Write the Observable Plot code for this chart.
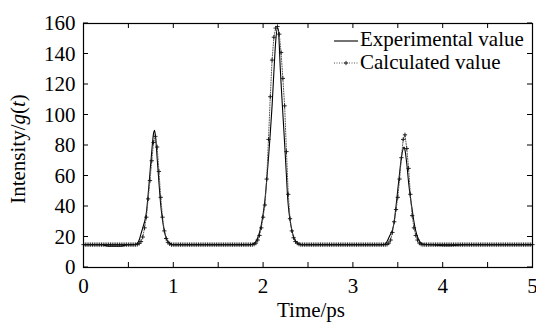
<!DOCTYPE html>
<html><head><meta charset="utf-8">
<script src="https://cdn.jsdelivr.net/npm/d3@7"></script>
<script src="https://cdn.jsdelivr.net/npm/@observablehq/plot@0.6"></script>
<style>
body{margin:0;background:#fff}
svg{font-family:"Liberation Serif","Times New Roman",serif}
</style>
</head><body><div id="chart"></div>
<script>
// Experimental curve (time in ps, intensity)
const expTime = [
  0,0.1,0.2,0.22,0.26,0.3,0.35,0.4,0.44,0.47,0.5,0.56,0.58,
  0.6,0.62,0.64,0.66,0.68,0.7,0.72,0.74,0.76,0.78,0.79,0.8,0.82,0.84,0.86,0.88,0.9,0.92,0.94,0.96,0.98,1.0,1.4,
  1.86,1.88,1.9,1.92,1.94,1.96,1.98,2.0,2.02,2.04,2.06,2.08,2.1,2.12,2.14,2.16,2.17,2.18,2.19,2.2,2.22,2.24,2.26,2.27,2.28,2.3,2.32,2.34,2.36,2.38,2.4,2.42,2.8,
  3.34,3.36,3.38,3.4,3.42,3.44,3.46,3.48,3.5,3.52,3.54,3.56,3.57,3.58,3.6,3.62,3.64,3.66,3.68,3.7,3.72,3.74,3.76,3.78,3.85,3.92,4.0,4.1,4.18,4.25,4.6,5.0
];
const expIntensity = [
  15,15,15,14.8,14.2,14,14,14,14.2,14.8,15,15,15.2,
  15.8,18,22,26,30,36,48,62,76,88,90,87,72,56,41,31,24,19.5,17,16,15.3,15,15,
  15,15.3,15.8,17,19.5,23,28,35,44,57,72,88,106,128,148,157,156,146,132,121,101,81,60,49,41,31,24.5,20,17.5,16.2,15.5,15,15,
  15,15.5,17,19.5,22,24.5,30,40,51,62,72,78,79,77,68,56,46,38,30,24,20,17.5,16,15.3,15,14.8,14.3,14.3,14.8,15,15,15
];
// Calculated curve, sampled every 0.02 ps from 0 to 5
const calcStep = 0.02;
const calcIntensity = [
  15,15,15,15,15,15,15,15,15,15,
  15,15,15,15,15,15,15,15,15,15,
  15,15,15,15,15,15,15,15,15,15,
  15.2,15.8,17,20,26,33,45,57,70,82,
  86,79,63,46,33,24,19,16.5,15.5,15,
  15,15,15,15,15,15,15,15,15,15,
  15,15,15,15,15,15,15,15,15,15,
  15,15,15,15,15,15,15,15,15,15,
  15,15,15,15,15,15,15,15,15,15,
  15,15,15,15,15,15.3,16,18,21,26,
  33,41,58,84,112,136,151,157,158,153,
  141,124,106,76,48,32,24,19.5,17,16,
  15.3,15,15,15,15,15,15,15,15,15,
  15,15,15,15,15,15,15,15,15,15,
  15,15,15,15,15,15,15,15,15,15,
  15,15,15,15,15,15,15,15,15,15,
  15,15,15,15,15,15,15,15,15,15.2,
  16,18,23,30,38,46,58,72,84,87,
  78,65,48,34,26,21,18,16,15.3,15,
  15,15,15,15,15,15,15,15,15,15,
  15,15,15,15,15,15,15,15,15,15,
  15,15,15,15,15,15,15,15,15,15,
  15,15,15,15,15,15,15,15,15,15,
  15,15,15,15,15,15,15,15,15,15,
  15,15,15,15,15,15,15,15,15,15,
  15
];
const xTicks = [0,1,2,3,4,5];
const xMinorTicks = [0,0.5,1,1.5,2,2.5,3,3.5,4,4.5,5];
const yTicks = [0,20,40,60,80,100,120,140,160];
const seriesNames = ["Experimental value","Calculated value"];
const xLabel = "Time/ps";

const expData = expTime.map((t,i)=>({t, v: expIntensity[i]}));
const calcData = calcIntensity.map((v,i)=>({t: +(i*calcStep).toFixed(3), v}));

const W = 536, H = 322, mL = 83, mR = 4, mT = 23, mB = 55;
const innerH = H - mT - mB;
const tick = 5;

const chart = Plot.plot({
  width: W, height: H,
  marginLeft: mL, marginRight: mR, marginTop: mT, marginBottom: mB,
  style: {fontFamily: '"Liberation Serif","Times New Roman",serif', fontSize: "21px", color: "#000", background: "#fff"},
  x: {domain: [0,5]},
  y: {domain: [0,160]},
  marks: [
    Plot.ruleX(xMinorTicks, {x: d=>d, insetTop: innerH - tick, stroke: "#000"}),
    Plot.ruleX(xMinorTicks, {x: d=>d, insetBottom: innerH - tick, stroke: "#000"}),
    Plot.axisX({ticks: xTicks, tickSize: 0, tickPadding: 11, label: null, fontSize: 21, tickFormat: d=>String(d)}),
    Plot.axisY({ticks: yTicks, tickSize: 0, tickPadding: 8, label: null, fontSize: 21}),
    Plot.line(expData, {x: "t", y: "v", stroke: "#000", strokeWidth: 1.1, curve: "monotone-x"}),
    Plot.line(calcData, {x: "t", y: "v", stroke: "#555", strokeWidth: 1, strokeDasharray: "1,1.5"}),
    Plot.dot(calcData, {x: "t", y: "v", symbol: "plus", r: 1.5, stroke: "#111", strokeWidth: 0.9}),
    Plot.frame({stroke: "#000", strokeWidth: 1.2})
  ]
});

const svg = d3.select(chart);
const ys = chart.scale("y");
// inward y ticks on left and right
yTicks.forEach(v => {
  const y = ys.apply(v);
  svg.append("line").attr("x1", mL).attr("x2", mL + tick).attr("y1", y).attr("y2", y).attr("stroke", "#000");
  svg.append("line").attr("x1", W - mR).attr("x2", W - mR - tick).attr("y1", y).attr("y2", y).attr("stroke", "#000");
});
// x label
svg.append("text").attr("x", 311).attr("y", 317).attr("text-anchor", "middle")
  .attr("font-size", 21).attr("fill", "#000").text(xLabel);
// y label with italic g and t
const yl = svg.append("text").attr("transform", "translate(25,149) rotate(-90)")
  .attr("text-anchor", "middle").attr("font-size", 21).attr("fill", "#000");
yl.append("tspan").text("Intensity/");
yl.append("tspan").attr("font-style", "italic").text("g");
yl.append("tspan").text("(");
yl.append("tspan").attr("font-style", "italic").text("t");
yl.append("tspan").text(")");
// legend
const lx0 = 334, lx1 = 358, tx = 360;
svg.append("line").attr("x1", lx0).attr("x2", lx1).attr("y1", 41).attr("y2", 41).attr("stroke", "#000").attr("stroke-width", 1.1);
svg.append("text").attr("x", tx).attr("y", 46).attr("text-anchor", "start").attr("font-size", 21).attr("fill", "#000").text(seriesNames[0]);
svg.append("line").attr("x1", lx0).attr("x2", lx1).attr("y1", 63).attr("y2", 63).attr("stroke", "#555").attr("stroke-dasharray", "1,1.5");
svg.append("path").attr("d", d3.symbol(d3.symbolPlus, Math.PI*1.5*1.5)()).attr("transform", "translate(346,63)").attr("fill", "none").attr("stroke", "#111").attr("stroke-width", 0.9);
svg.append("text").attr("x", tx).attr("y", 69).attr("text-anchor", "start").attr("font-size", 21).attr("fill", "#000").text(seriesNames[1]);

document.getElementById("chart").append(chart);
</script>
</body></html>
